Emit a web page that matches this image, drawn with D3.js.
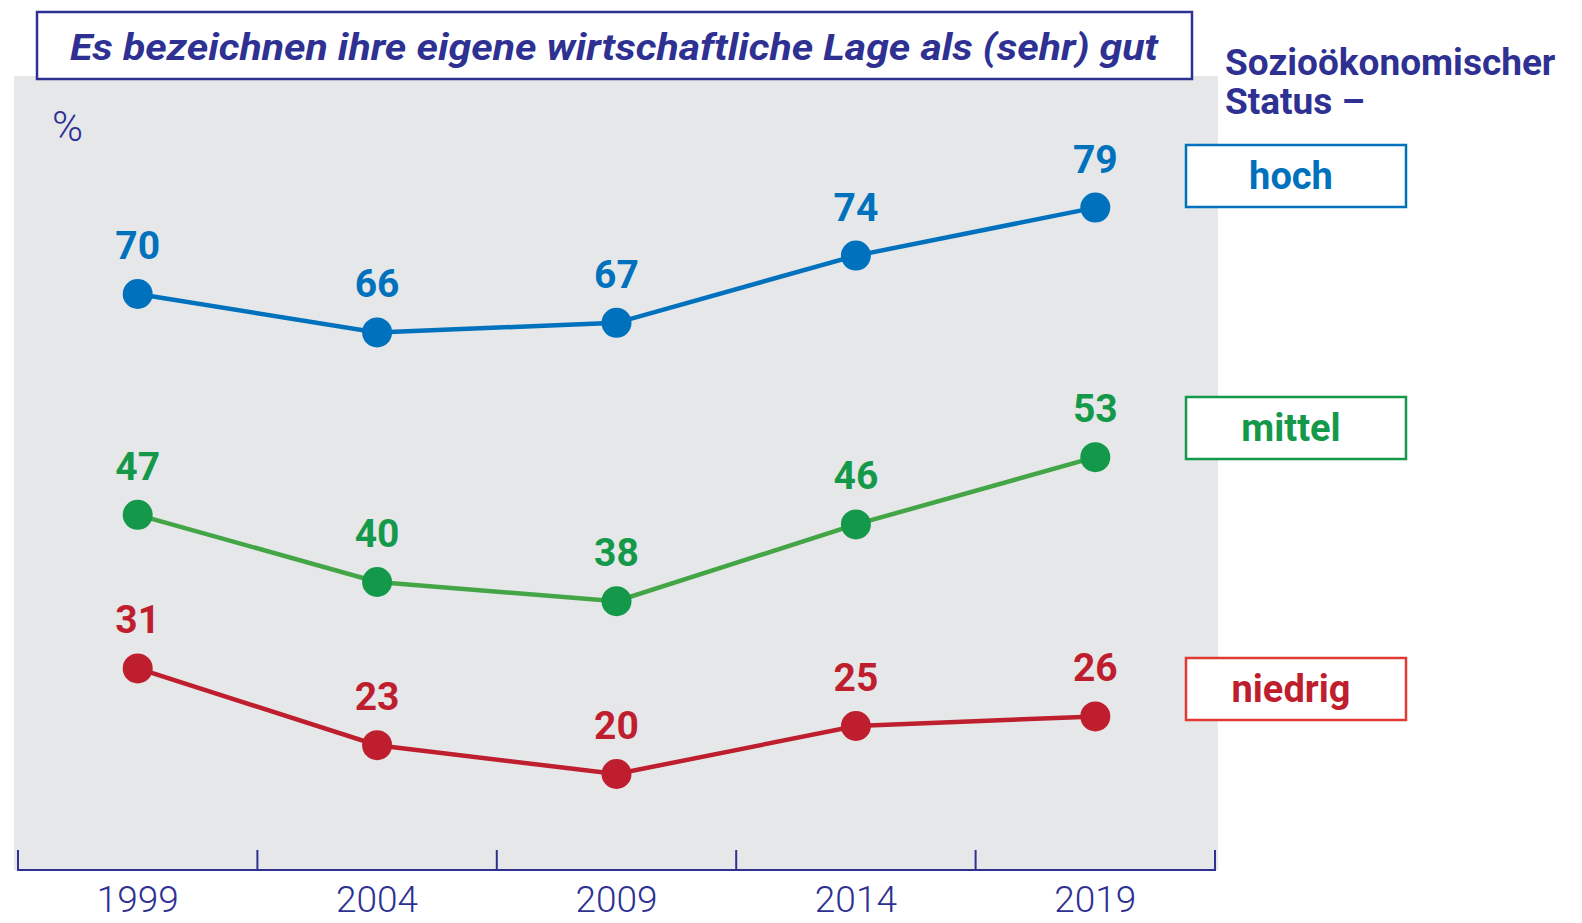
<!DOCTYPE html>
<html>
<head>
<meta charset="utf-8">
<script src="https://cdn.jsdelivr.net/npm/d3@7"></script>
<style>
  body { margin: 0; background: #fff; }
  svg { display: block; }
</style>
</head>
<body>
<script>
// data
const years = ["1999", "2004", "2009", "2014", "2019"];
const hoch = [70, 66, 67, 74, 79];
const mittel = [47, 40, 38, 46, 53];
const niedrig = [31, 23, 20, 25, 26];
const seriesNames = ["hoch", "mittel", "niedrig"];

const titleText = "Es bezeichnen ihre eigene wirtschaftliche Lage als (sehr) gut";
const legendTitle = ["Sozioökonomischer", "Status –"];

const width = 1582, height = 923;
const navy = "#2e3192";

const series = [
  { name: seriesNames[0], values: hoch, color: "#0071bc", box: "#0071bc", legendY: 145 },
  { name: seriesNames[1], values: mittel, color: "#14994a", box: "#14994a", line: "#44a547", legendY: 397 },
  { name: seriesNames[2], values: niedrig, color: "#be1e2d", box: "#e03a33", legendY: 658 }
];

const svg = d3.select("body").append("svg")
  .attr("width", width).attr("height", height);

// gray panel
svg.append("rect")
  .attr("x", 14).attr("y", 76)
  .attr("width", 1204).attr("height", 794)
  .attr("fill", "#e6e7e9");

// title box
svg.append("rect")
  .attr("x", 37).attr("y", 12)
  .attr("width", 1155).attr("height", 67)
  .attr("fill", "#fff").attr("stroke", navy).attr("stroke-width", 2.5);

svg.append("text")
  .attr("x", 70).attr("y", 60)
  .attr("font-family", "Roboto")
  .attr("font-style", "italic")
  .attr("font-weight", "bold")
  .attr("font-size", 37)
  .attr("textLength", 1088)
  .attr("lengthAdjust", "spacingAndGlyphs")
  .attr("fill", navy)
  .text(titleText);

// % label
svg.append("text")
  .attr("x", 52).attr("y", 141)
  .attr("font-family", "Roboto")
  .attr("font-weight", 300)
  .attr("font-size", 42)
  .attr("fill", navy)
  .text("%");

// scales
const x = d3.scaleBand().domain(years).range([18, 1215]);
const y = d3.scaleLinear().domain([20, 70]).range([774, 294]);

// x axis
const axis = svg.append("g").attr("transform", "translate(0,870)");
axis.append("line")
  .attr("x1", 17).attr("x2", 1216)
  .attr("stroke", navy).attr("stroke-width", 2);

const tickPos = years.map(d => x(d)).concat([x(years[years.length - 1]) + x.bandwidth()]);
axis.selectAll(".tick")
  .data(tickPos)
  .enter()
  .append("line")
  .attr("x1", d => d).attr("x2", d => d)
  .attr("y1", -20).attr("y2", 0)
  .attr("stroke", navy).attr("stroke-width", 2);

axis.selectAll(".year")
  .data(years)
  .enter()
  .append("text")
  .attr("x", d => x(d) + x.bandwidth() / 2)
  .attr("y", 42)
  .attr("text-anchor", "middle")
  .attr("font-family", "Roboto")
  .attr("font-weight", 300)
  .attr("font-size", 37)
  .attr("fill", navy)
  .text(d => d);

// lines + points
const line = d3.line()
  .x((d, i) => x(years[i]) + x.bandwidth() / 2)
  .y(d => y(d));

series.forEach(s => {
  const g = svg.append("g");
  g.append("path")
    .attr("d", line(s.values))
    .attr("fill", "none")
    .attr("stroke", s.line || s.color)
    .attr("stroke-width", 4.5);

  g.selectAll("circle")
    .data(s.values)
    .enter()
    .append("circle")
    .attr("cx", (d, i) => x(years[i]) + x.bandwidth() / 2)
    .attr("cy", d => y(d))
    .attr("r", 15)
    .attr("fill", s.color);

  g.selectAll("text")
    .data(s.values)
    .enter()
    .append("text")
    .attr("x", (d, i) => x(years[i]) + x.bandwidth() / 2)
    .attr("y", d => y(d) - 35)
    .attr("text-anchor", "middle")
    .attr("font-family", "Roboto")
    .attr("font-weight", "bold")
    .attr("font-size", 39)
    .attr("fill", s.color)
    .text(d => d);

  // legend box
  svg.append("rect")
    .attr("x", 1186).attr("y", s.legendY)
    .attr("width", 220).attr("height", 62)
    .attr("fill", "#fff").attr("stroke", s.box).attr("stroke-width", 2.5);
  svg.append("text")
    .attr("x", 1291).attr("y", s.legendY + 44)
    .attr("text-anchor", "middle")
    .attr("font-family", "Roboto")
    .attr("font-weight", "bold")
    .attr("font-size", 38)
    .attr("fill", s.color)
    .text(s.name);
});

// legend heading
svg.append("text")
  .attr("font-family", "Roboto")
  .attr("font-weight", "bold")
  .attr("font-size", 37)
  .attr("fill", navy)
  .selectAll("tspan")
  .data(legendTitle)
  .enter()
  .append("tspan")
  .attr("x", 1225)
  .attr("y", (d, i) => 75 + i * 39)
  .text(d => d);
</script>
</body>
</html>
